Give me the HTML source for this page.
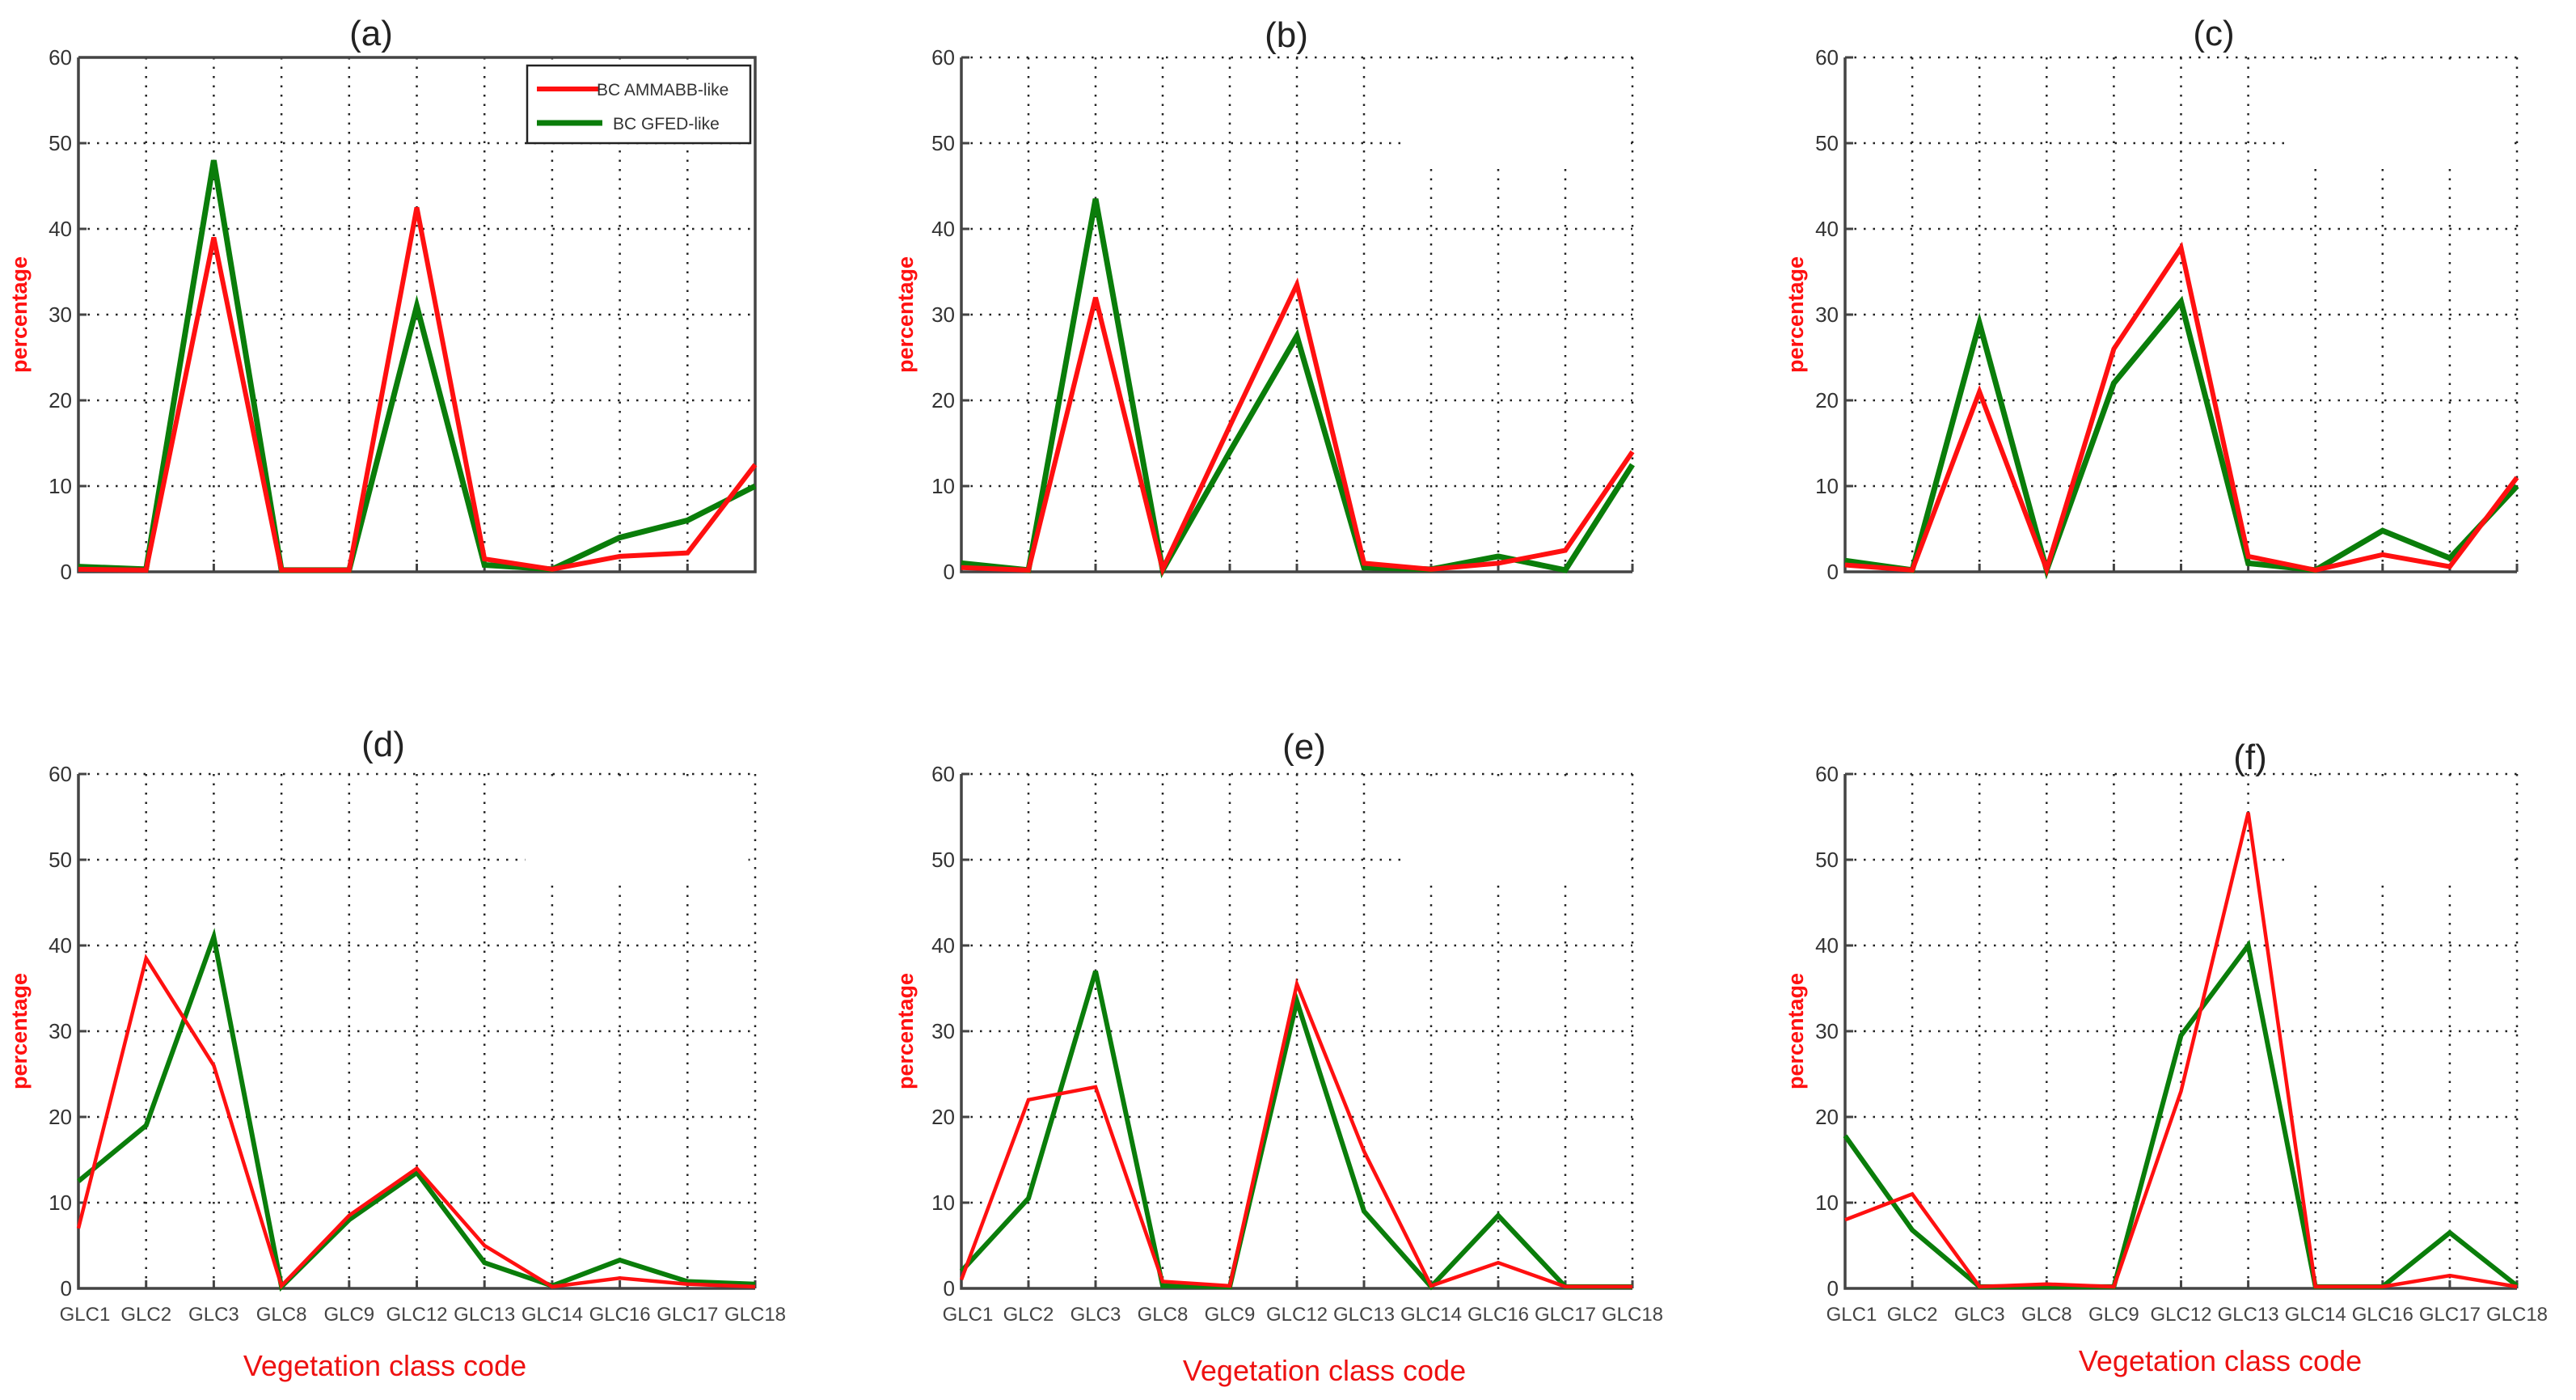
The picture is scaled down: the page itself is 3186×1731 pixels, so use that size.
<!DOCTYPE html>
<html><head><meta charset="utf-8">
<style>
html,body{margin:0;padding:0;background:#fff;}
svg{display:block;font-family:"Liberation Sans",sans-serif;}
</style></head>
<body>
<svg id="fig" width="3186" height="1731" viewBox="0 0 3186 1731" xmlns="http://www.w3.org/2000/svg"></svg>
<script>
const categories = ["GLC1","GLC2","GLC3","GLC8","GLC9","GLC12","GLC13","GLC14","GLC16","GLC17","GLC18"];
const yTicks = [0,10,20,30,40,50,60];
const panelLabels = ["(a)","(b)","(c)","(d)","(e)","(f)"];
const redA = [0.3,0.2,39,0.2,0.2,42.5,1.5,0.3,1.8,2.2,12.5];
const greenA = [0.6,0.3,48,0.2,0.2,31,0.8,0.3,4,6,10];
const redB = [0.5,0.2,32,0.3,17,33.5,1,0.3,1,2.5,14];
const greenB = [1,0.2,43.5,0.2,14,27.5,0.5,0.3,1.8,0.2,12.5];
const redC = [0.8,0.2,21,0.3,26,37.8,1.8,0.2,2,0.6,11];
const greenC = [1.3,0.2,29,0.2,22,31.5,1,0.2,4.8,1.6,10];
const redD = [7,38.5,26,0.3,8.5,14,5,0.2,1.2,0.5,0.2];
const greenD = [12.5,19,41,0.2,8,13.5,3,0.3,3.3,0.8,0.5];
const redE = [1,22,23.5,0.8,0.3,35.5,16,0.3,3,0.2,0.2];
const greenE = [2,10.5,37,0.3,0.2,33.5,9,0.2,8.5,0.2,0.2];
const redF = [8,11,0.2,0.5,0.2,23,55.5,0.2,0.2,1.5,0.2];
const greenF = [17.8,6.8,0.2,0.2,0.2,29.5,40,0.2,0.2,6.5,0.3];
const seriesNames = ["BC AMMABB-like","BC GFED-like"];

const NS="http://www.w3.org/2000/svg";
const svg=document.getElementById('fig');
function mk(tag,attrs,parent,text){const e=document.createElementNS(NS,tag);for(const k in attrs)e.setAttribute(k,attrs[k]);if(text!==undefined)e.textContent=text;(parent||svg).appendChild(e);return e;}

const layout=[
 {x0:97,x1:934,y0:71,y1:707,tx:459,ty:56,xl:false,box:true,px:33},
 {x0:1189,x1:2019,y0:71,y1:707,tx:1591,ty:58,xl:false,box:false,px:1129},
 {x0:2282,x1:3113,y0:71,y1:707,tx:2738,ty:56,xl:false,box:false,px:2230},
 {x0:97,x1:934,y0:957,y1:1593,tx:474,ty:935,xl:true,box:false,px:33,vx:476,vy:1701},
 {x0:1189,x1:2019,y0:957,y1:1593,tx:1613,ty:938,xl:true,box:false,px:1129,vx:1638,vy:1707},
 {x0:2282,x1:3113,y0:957,y1:1593,tx:2783,ty:951,xl:true,box:false,px:2230,vx:2746,vy:1695}
];
const reds=[redA,redB,redC,redD,redE,redF];
const greens=[greenA,greenB,greenC,greenD,greenE,greenF];

layout.forEach((L,p)=>{
  const g=mk('g',{});
  
  
  const xs=i=>L.x0+(L.x1-L.x0)*i/(categories.length-1);
  const ys=v=>L.y1-(L.y1-L.y0)*v/60;
  yTicks.forEach(t=>{ if(t>0){const l=mk('line',{x1:L.x0,x2:L.x1,y1:ys(t),y2:ys(t),stroke:'#222','stroke-width':2.5,'stroke-dasharray':'2.5 9'},g);
    }});
  categories.forEach((c,i)=>{ if(i>0){const l=mk('line',{x1:xs(i),x2:xs(i),y1:L.y0,y2:L.y1,stroke:'#222','stroke-width':2.5,'stroke-dasharray':'2.5 9'},g);
    }});
  if(p>0){const r=mk('rect',{x:L.x0+(L.x1-L.x0)*0.66,y:L.y0+6,width:(L.x1-L.x0)*0.33,height:(L.y1-L.y0)*0.2,fill:'#fff'},g);
    }
  const ax=mk('path',{d:`M${L.x0},${L.y0} V${L.y1} H${L.x1}`+(L.box?` V${L.y0} H${L.x0}`:''),fill:'none',stroke:'#444','stroke-width':3.5},g);
  
  yTicks.forEach(t=>{
    mk('line',{x1:L.x0,x2:L.x0+10,y1:ys(t),y2:ys(t),stroke:'#444','stroke-width':3},g);
    const tl=mk('text',{x:L.x0-8,y:ys(t)+9,'text-anchor':'end','font-size':26,fill:'#333'},g,String(t));
    
  });
  categories.forEach((c,i)=>{
    mk('line',{x1:xs(i),x2:xs(i),y1:L.y1,y2:L.y1-10,stroke:'#444','stroke-width':3},g);
    if(L.xl){const tl=mk('text',{x:xs(i)+(i==0?8:0),y:L.y1+40,'text-anchor':'middle','font-size':24,fill:'#444'},g,c);
      }
  });
  const top=p<3;
  [[greens[p],'#0a7d0a',top?7:6,'green-line'],[reds[p],'#ff1010',top?6:4.5,'red-line']].forEach(([arr,col,w,nm])=>{
    const d=arr.map((v,i)=>(i?'L':'M')+xs(i)+','+ys(v)).join(' ');
    const pl=mk('path',{d:d,fill:'none',stroke:col,'stroke-width':w,'stroke-linejoin':'miter'},g);
    
  });
  const t=mk('text',{x:L.tx,y:L.ty,'text-anchor':'middle','font-size':44,fill:'#222'},g,panelLabels[p]);
  
  const yc=(L.y0+L.y1)/2;
  const yt=mk('text',{x:L.px,y:yc,'text-anchor':'middle','font-size':27,'font-weight':'bold',fill:'#ff1010',transform:`rotate(-90 ${L.px} ${yc})`},g,'percentage');
  
  if(L.vx){const xt=mk('text',{x:L.vx,y:L.vy,'text-anchor':'middle','font-size':36,fill:'#ee1111'},g,'Vegetation class code');
    }
});

const lg=mk('g',{});


mk('rect',{x:652,y:81,width:276,height:96,fill:'#fff',stroke:'#222','stroke-width':2.5},lg);
const le1=mk('line',{x1:664,x2:740,y1:110,y2:110,stroke:'#ff1010','stroke-width':6},lg);

mk('text',{x:738,y:118,'font-size':21,fill:'#333'},lg,seriesNames[0]);
const le2=mk('line',{x1:664,x2:745,y1:152,y2:152,stroke:'#0a7d0a','stroke-width':7},lg);

mk('text',{x:758,y:160,'font-size':21,fill:'#333'},lg,seriesNames[1]);
</script>
</body></html>
